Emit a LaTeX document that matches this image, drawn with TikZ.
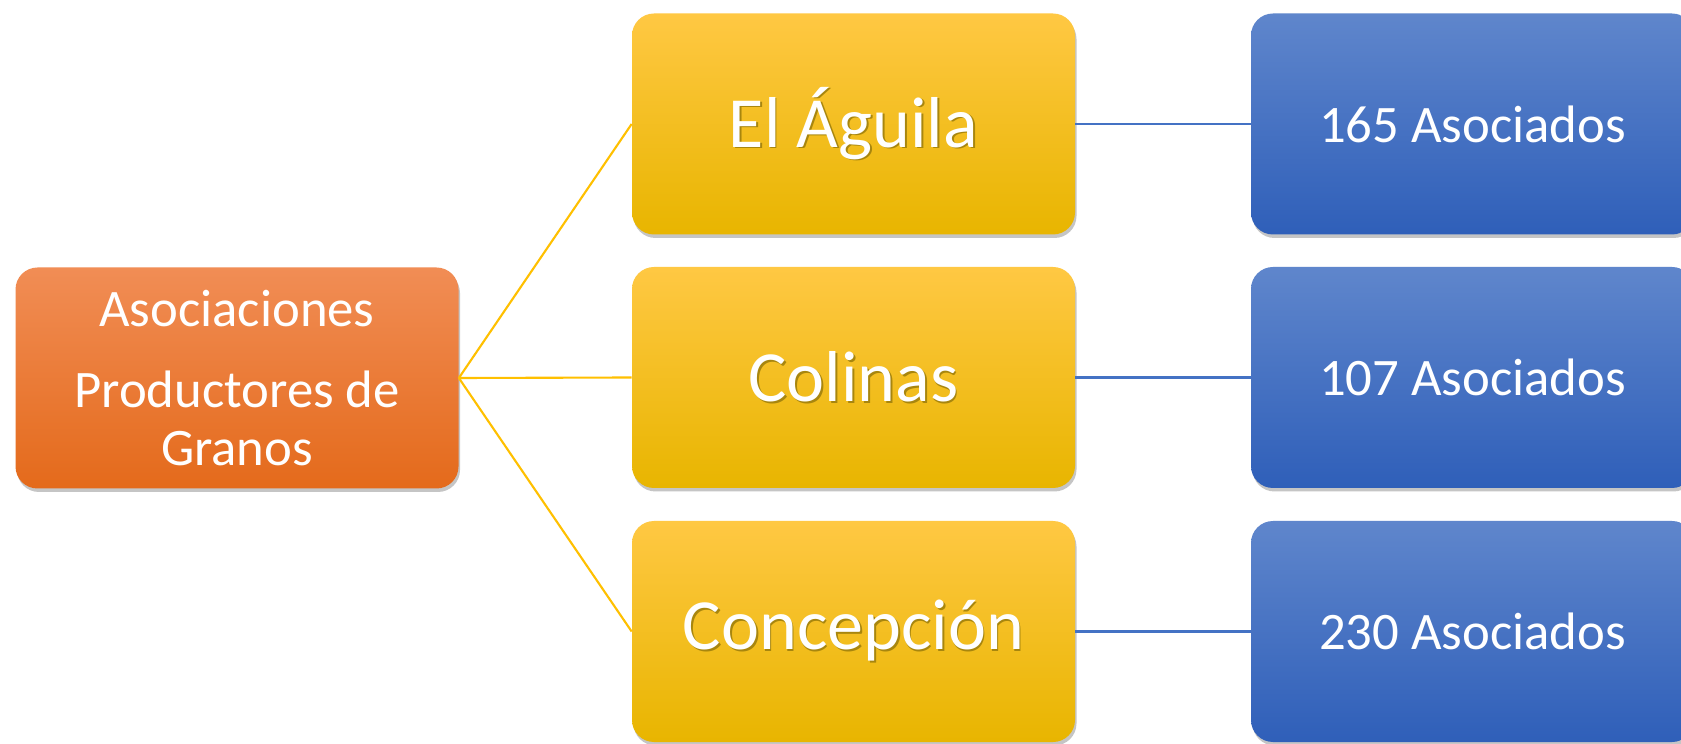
\documentclass[tikz,border=0pt]{standalone}
\usepackage{fontspec}
\setmainfont{Carlito}
\usetikzlibrary{shadows}
\definecolor{naranjaA}{HTML}{F18D55}
\definecolor{naranjaB}{HTML}{F47F2F}
\definecolor{naranjaC}{HTML}{E46A1B}
\definecolor{amarilloA}{HTML}{FFC843}
\definecolor{amarilloB}{HTML}{FFC000}
\definecolor{amarilloC}{HTML}{E8B500}
\definecolor{azulA}{HTML}{5F86CC}
\definecolor{azulB}{HTML}{4472C4}
\definecolor{azulC}{HTML}{2F5FB9}
\definecolor{sombra}{HTML}{A8860E}
\newcommand{\txtsombra}[1]{\makebox[0pt][l]{\raisebox{-0.035cm}{\hspace{0.035cm}\textcolor{sombra}{#1}}}#1}

\begin{document}
\begin{tikzpicture}[
    caja/.style={rectangle,rounded corners=0.44cm,minimum width=8.86cm,minimum height=4.42cm,
                 text=white,align=center,inner sep=0pt,
                 drop shadow={shadow xshift=0.03cm,shadow yshift=-0.07cm,opacity=0.45}},
    cajaorg/.style={caja,top color=naranjaA,middle color=naranjaB,bottom color=naranjaC,
                    font=\fontsize{30}{32.7}\selectfont},
    cajaasoc/.style={caja,top color=amarilloA,middle color=amarilloB,bottom color=amarilloC,
                     font=\fontsize{41}{48}\selectfont},
    cajanum/.style={caja,top color=azulA,middle color=azulB,bottom color=azulC,
                    font=\fontsize{30}{36}\selectfont},
    lineaam/.style={amarilloB,line width=1.2pt},
    lineaaz/.style={azulB,line width=1.4pt}]
    \path[use as bounding box,clip] (0,0) rectangle (33.62,14.86);
    \fill[white] (0,0) rectangle (33.62,14.86);
        \draw (4.74,7.30)   node[cajaorg] (org) {Asociaciones\\[13.3pt]Productores de\\Granos};
        \draw (17.07,12.38) node[cajaasoc] (agu) {\txtsombra{El Águila}};
        \draw (17.07,7.31)  node[cajaasoc] (col) {\txtsombra{Colinas}};
        \draw (17.07,2.23)  node[cajaasoc] (con) {\txtsombra{Concepción}};
        \draw (29.45,12.38) node[cajanum] (n165) {165 Asociados};
        \draw (29.45,7.31)  node[cajanum] (n107) {107 Asociados};
        \draw (29.45,2.23)  node[cajanum] (n230) {230 Asociados};
        \draw[lineaam] (org.east) -- (agu.west)
              (org.east) -- (col.west)
              (org.east) -- (con.west);
        \draw[lineaaz] (agu.east) -- (n165.west)
              (col.east) -- (n107.west)
              (con.east) -- (n230.west);
\end{tikzpicture}
\end{document}
